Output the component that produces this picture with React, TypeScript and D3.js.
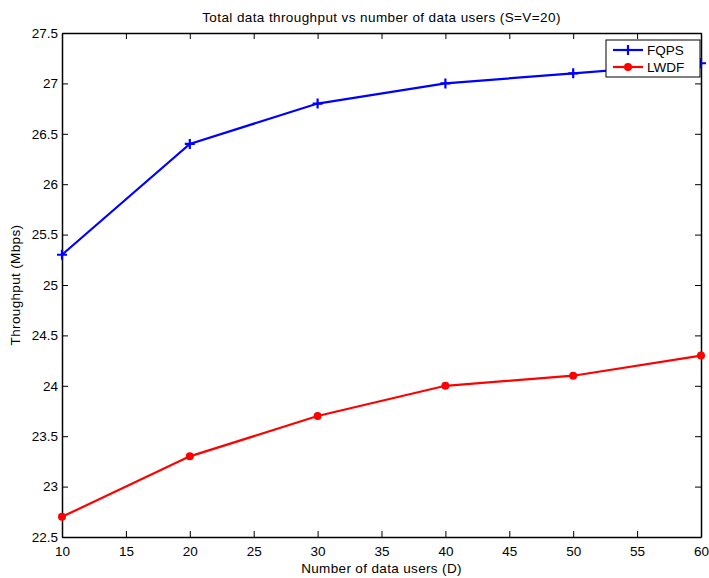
import React, { useEffect, useRef } from "react";
import * as d3 from "d3";

const users = [10, 20, 30, 40, 50, 60];
const fqps = [25.3, 26.4, 26.8, 27.0, 27.1, 27.2];
const lwdf = [22.7, 23.3, 23.7, 24.0, 24.1, 24.3];
const xTicks = [10, 15, 20, 25, 30, 35, 40, 45, 50, 55, 60];
const yTicks = [22.5, 23, 23.5, 24, 24.5, 25, 25.5, 26, 26.5, 27, 27.5];
const seriesNames = ["FQPS", "LWDF"];

const App = () => {
  const ref = useRef<SVGSVGElement>(null);

  useEffect(() => {
    document.body.style.margin = "0";
    document.body.style.overflow = "hidden";
    const svg = d3.select(ref.current);
    svg.selectAll("*").remove();
    const width = 709;
    const height = 578;
    const margin = { top: 33, right: 8, bottom: 41, left: 62 };
    const font = "Liberation Sans, Arial, sans-serif";

    const x = d3.scaleLinear().domain([10, 60]).range([margin.left, width - margin.right]);
    const y = d3.scaleLinear().domain([22.5, 27.5]).range([height - margin.bottom, margin.top]);

    svg.append("rect").attr("width", width).attr("height", height).attr("fill", "#fff");

    const tickLen = 6;
    const fmt = (d: number) => d3.format("")(d);

    // bottom and left axes carry labels, top and right only ticks (boxed plot)
    const xAxis = svg
      .append("g")
      .attr("transform", `translate(0,${y(22.5)})`)
      .call(d3.axisBottom(x).tickValues(xTicks).tickSizeInner(-tickLen).tickSizeOuter(0).tickPadding(9).tickFormat(fmt as any));
    const yAxis = svg
      .append("g")
      .attr("transform", `translate(${x(10)},0)`)
      .call(d3.axisLeft(y).tickValues(yTicks).tickSizeInner(-tickLen).tickSizeOuter(0).tickPadding(4).tickFormat(fmt as any));
    const topAxis = svg
      .append("g")
      .attr("transform", `translate(0,${y(27.5)})`)
      .call(d3.axisTop(x).tickValues(xTicks).tickSizeInner(-tickLen).tickSizeOuter(0).tickFormat(() => ""));
    const rightAxis = svg
      .append("g")
      .attr("transform", `translate(${x(60)},0)`)
      .call(d3.axisRight(y).tickValues(yTicks).tickSizeInner(-tickLen).tickSizeOuter(0).tickFormat(() => ""));

    [xAxis, yAxis, topAxis, rightAxis].forEach((g) => {
      g.select(".domain").attr("stroke", "#000").attr("stroke-width", 1.5);
      g.selectAll(".tick line").attr("stroke", "#000").attr("stroke-width", 1);
      g.selectAll("text").attr("font-family", font).attr("font-size", 13.5).attr("fill", "#000");
    });

    // series
    const line = d3
      .line<number>()
      .x((d, i) => x(users[i]))
      .y((d) => y(d));

    svg.append("path").datum(fqps).attr("d", line).attr("fill", "none").attr("stroke", "#0000ff").attr("stroke-width", 2.2);
    svg.append("path").datum(lwdf).attr("d", line).attr("fill", "none").attr("stroke", "#ff0000").attr("stroke-width", 2.2);

    svg
      .selectAll(".fq")
      .data(fqps)
      .enter()
      .append("path")
      .attr("transform", (d, i) => `translate(${x(users[i])},${y(d)})`)
      .attr("d", "M-5,0H5M0,-5V5")
      .attr("stroke", "#0000ff")
      .attr("stroke-width", 2.2);

    svg
      .selectAll(".lw")
      .data(lwdf)
      .enter()
      .append("circle")
      .attr("cx", (d, i) => x(users[i]))
      .attr("cy", (d) => y(d))
      .attr("r", 4)
      .attr("fill", "#ff0000");

    // legend
    const lg = svg.append("g").attr("transform", "translate(606,40)");
    lg.append("rect").attr("width", 94).attr("height", 37).attr("fill", "#fff").attr("stroke", "#000").attr("stroke-width", 1);
    const colors = ["#0000ff", "#ff0000"];
    seriesNames.forEach((name, i) => {
      const cy = 10 + i * 17;
      lg.append("line").attr("x1", 7).attr("x2", 37).attr("y1", cy).attr("y2", cy).attr("stroke", colors[i]).attr("stroke-width", 2.2);
      if (i === 0) {
        lg.append("path").attr("transform", `translate(22,${cy})`).attr("d", "M-5,0H5M0,-5V5").attr("stroke", colors[i]).attr("stroke-width", 2.2);
      } else {
        lg.append("circle").attr("cx", 22).attr("cy", cy).attr("r", 4).attr("fill", colors[i]);
      }
      lg.append("text").attr("x", 41).attr("y", cy).attr("dy", "0.36em").attr("font-family", font).attr("font-size", 13.5).text(name);
    });

    // titles
    svg
      .append("text")
      .attr("x", (x(10) + x(60)) / 2)
      .attr("y", 21.5)
      .attr("text-anchor", "middle")
      .attr("font-family", font)
      .attr("font-size", 13.5)
      .attr("letter-spacing", 0.4)
      .text("Total data throughput vs number of data users (S=V=20)");
    svg
      .append("text")
      .attr("x", (x(10) + x(60)) / 2)
      .attr("y", 573)
      .attr("text-anchor", "middle")
      .attr("font-family", font)
      .attr("font-size", 13.5)
      .attr("letter-spacing", 0.35)
      .text("Number of data users (D)");
    svg
      .append("text")
      .attr("transform", `translate(20,${(y(22.5) + y(27.5)) / 2}) rotate(-90)`)
      .attr("text-anchor", "middle")
      .attr("font-family", font)
      .attr("font-size", 13.5)
      .attr("letter-spacing", 0.35)
      .text("Throughput (Mbps)");
  }, []);

  return <svg ref={ref} width={709} height={578} style={{ display: "block" }}></svg>;
};

export default App;
